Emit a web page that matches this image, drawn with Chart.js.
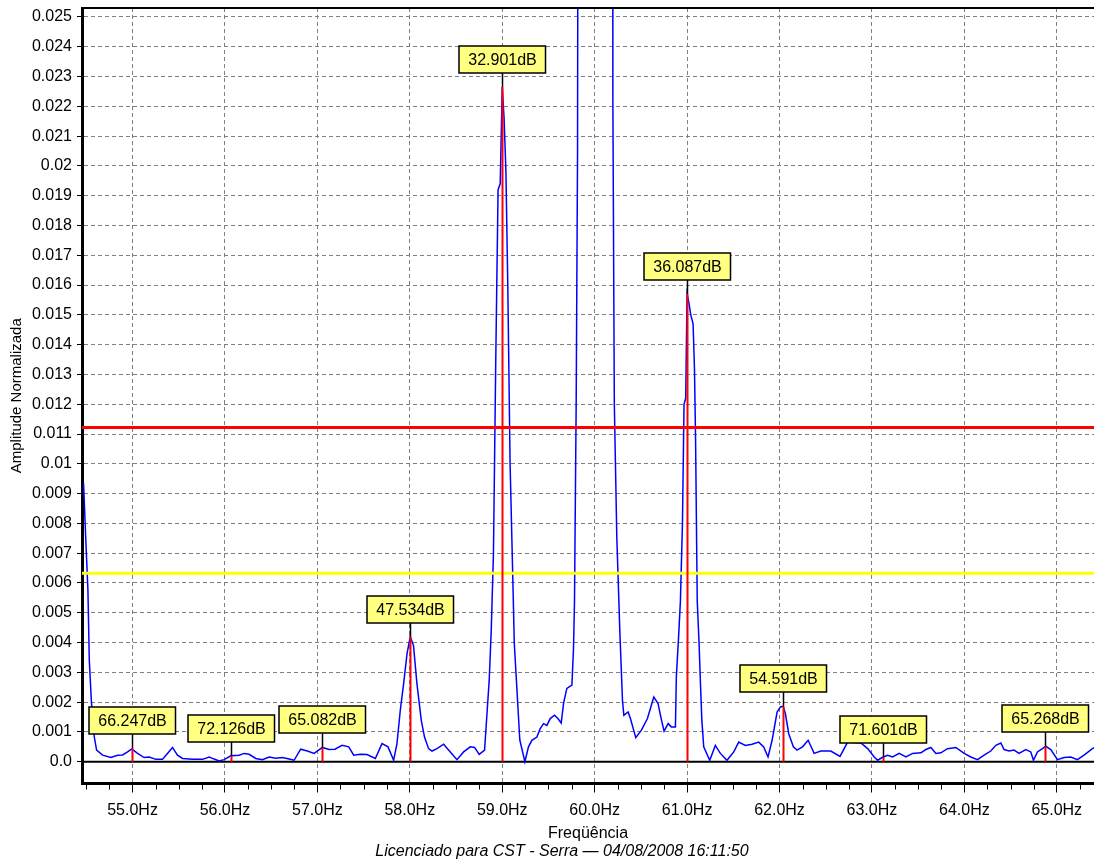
<html>
<script src="https://cdn.jsdelivr.net/npm/chart.js@4.4.0/dist/chart.umd.min.js"></script>
<style>
  body { margin: 0; background: #fff; }
</style>

<body>
  <canvas id="spectrumChart" width="1094" height="867"></canvas>
</body>

<script>
  // spectrum trace (Hz, normalized amplitude)
  var freqs = [
    54.470, 54.492, 54.517, 54.532, 54.555, 54.586, 54.611, 54.676, 54.765, 54.838,
    54.892, 54.946, 54.992, 55.054, 55.126, 55.180, 55.252, 55.324, 55.378, 55.432,
    55.486, 55.541, 55.649, 55.757, 55.829, 55.883, 55.937, 55.991, 56.063, 56.153,
    56.207, 56.261, 56.333, 56.405, 56.478, 56.549, 56.622, 56.694, 56.748, 56.819,
    56.892, 56.964, 57.054, 57.126, 57.190, 57.267, 57.339, 57.393, 57.465, 57.537,
    57.627, 57.699, 57.764, 57.825, 57.861, 57.897, 57.933, 57.970, 58.005, 58.040,
    58.077, 58.124, 58.159, 58.203, 58.240, 58.294, 58.366, 58.438, 58.510, 58.582,
    58.654, 58.701, 58.751, 58.809, 58.835, 58.859, 58.881, 58.905, 58.930, 58.955,
    58.978, 59.000, 59.020, 59.040, 59.060, 59.085, 59.120, 59.130, 59.165, 59.190,
    59.245, 59.284, 59.321, 59.375, 59.411, 59.447, 59.483, 59.519, 59.566, 59.602,
    59.638, 59.663, 59.699, 59.754, 59.771, 59.782, 59.800, 59.815, 59.832, 59.900,
    60.000, 60.100, 60.190, 60.197, 60.213, 60.240, 60.262, 60.272, 60.290, 60.301,
    60.316, 60.362, 60.387, 60.445, 60.506, 60.571, 60.608, 60.640, 60.686, 60.716,
    60.751, 60.795, 60.830, 60.874, 60.884, 60.910, 60.928, 60.950, 60.967, 60.985,
    61.000, 61.020, 61.040, 61.065, 61.080, 61.092, 61.110, 61.130, 61.145, 61.160,
    61.180, 61.245, 61.306, 61.360, 61.432, 61.505, 61.559, 61.630, 61.703, 61.775,
    61.829, 61.876, 61.920, 61.974, 62.010, 62.040, 62.064, 62.100, 62.150, 62.190,
    62.249, 62.310, 62.375, 62.447, 62.555, 62.655, 62.737, 62.881, 62.954, 63.025,
    63.062, 63.116, 63.170, 63.224, 63.295, 63.368, 63.440, 63.530, 63.584, 63.638,
    63.692, 63.746, 63.818, 63.908, 63.998, 64.070, 64.143, 64.214, 64.286, 64.341,
    64.395, 64.430, 64.484, 64.538, 64.592, 64.665, 64.719, 64.748, 64.791, 64.845,
    64.881, 64.935, 65.008, 65.079, 65.151, 65.224, 65.295, 65.386, 65.420
  ];
  var amps = [
    0.00935, 0.0076, 0.00576, 0.0034, 0.0020, 0.00083, 0.00039, 0.00022, 0.00014, 0.00022,
    0.00023, 0.00033, 0.00043, 0.00028, 0.00014, 0.00016, 0.00008, 0.00008, 0.00028, 0.00048,
    0.00022, 0.00011, 0.00008, 0.00008, 0.00016, 0.00009, 0.00003, 0.00007, 0.00020, 0.00022,
    0.00028, 0.00025, 0.00011, 0.00007, 0.00016, 0.00012, 0.00014, 0.00009, 0.00005, 0.00042,
    0.00036, 0.00028, 0.00048, 0.00041, 0.00042, 0.00055, 0.00050, 0.00022, 0.00025, 0.00024,
    0.00011, 0.00061, 0.00050, 0.00005, 0.00061, 0.00173, 0.00262, 0.00363, 0.00420, 0.00390,
    0.00262, 0.00139, 0.00083, 0.00044, 0.00036, 0.00044, 0.00059, 0.00033, 0.00007, 0.00033,
    0.00050, 0.00048, 0.00025, 0.00039, 0.00162, 0.00273, 0.00441, 0.0070, 0.0135, 0.0192,
    0.0194, 0.02265, 0.0216, 0.0198, 0.0160, 0.0100, 0.0054, 0.0040, 0.0021, 0.00073,
    0.0, 0.00050, 0.00072, 0.00083, 0.00111, 0.00128, 0.00122, 0.00145, 0.00156, 0.00145,
    0.00130, 0.00195, 0.00246, 0.00257, 0.00380, 0.0054, 0.0120, 0.0205, 0.060, 0.30,
    1.0, 0.30, 0.060, 0.0223, 0.0120, 0.0075, 0.0054, 0.00441, 0.00296, 0.00206,
    0.00156, 0.00167, 0.00145, 0.00081, 0.00106, 0.00145, 0.00184, 0.00217, 0.00195, 0.00150,
    0.00103, 0.00128, 0.00117, 0.00117, 0.00285, 0.00430, 0.0054, 0.0080, 0.0120, 0.0122,
    0.0157, 0.0154, 0.0150, 0.0147, 0.0132, 0.0108, 0.0054, 0.00396, 0.00262, 0.00139,
    0.00050, 0.00005, 0.00055, 0.00028, 0.00005, 0.00033, 0.00066, 0.00055, 0.00059, 0.00066,
    0.00050, 0.00016, 0.00072, 0.00167, 0.00184, 0.00186, 0.00161, 0.00094, 0.00050, 0.00039,
    0.00050, 0.00072, 0.00028, 0.00036, 0.00036, 0.00018, 0.00066, 0.00063, 0.00044, 0.00016,
    0.00005, 0.00015, 0.00022, 0.00016, 0.00028, 0.00016, 0.00028, 0.00030, 0.00041, 0.00048,
    0.00028, 0.00030, 0.00044, 0.00048, 0.00028, 0.00016, 0.00007, 0.00022, 0.00036, 0.00055,
    0.00063, 0.00041, 0.00036, 0.00039, 0.00028, 0.00041, 0.00033, 0.00005, 0.00033, 0.00044,
    0.00052, 0.00041, 0.00007, 0.00014, 0.00016, 0.00007, 0.00022, 0.00044, 0.00050
  ];

  // peak markers
  var markerFreqs = [54.99, 56.065, 57.05, 58.0, 59.0, 61.0, 62.04, 63.125, 64.87];
  var markerAmps = [0.00045, 0.00020, 0.00048, 0.0042, 0.02265, 0.0157, 0.00186, 0.00015, 0.00052];
  var markerLabels = ['66.247dB', '72.126dB', '65.082dB', '47.534dB', '32.901dB',
    '36.087dB', '54.591dB', '71.601dB', '65.268dB'];

  // alarm levels
  var redLevel = 0.01122;
  var yellowLevel = 0.00633;

  var footerText = 'Licenciado para CST - Serra \u2014 04/08/2008 16:11:50';

  var xMin = 54.453, xMax = 65.403;
  var yMin = -0.00073, yMax = 0.0253;

  var trace = freqs.map((f, i) => ({ x: f, y: amps[i] }));

  function isWhole(v) {
    return Math.abs(v - Math.round(v)) < 1e-6;
  }

  Chart.defaults.font.family = '"Liberation Sans", Arial, sans-serif';
  Chart.defaults.font.size = 16;
  Chart.defaults.color = '#000';

  var overlay = {
    id: 'overlay',
    beforeDatasetsDraw(chart) {
      var ctx = chart.ctx, area = chart.chartArea, y = chart.scales.y;
      var y0 = y.getPixelForValue(0);
      ctx.save();
      ctx.strokeStyle = '#000';
      ctx.lineWidth = 2;
      ctx.beginPath();
      ctx.moveTo(area.left, y0);
      ctx.lineTo(area.right, y0);
      ctx.stroke();
      ctx.restore();
    },
    afterDatasetsDraw(chart) {
      var ctx = chart.ctx, x = chart.scales.x, y = chart.scales.y;
      var y0 = y.getPixelForValue(0);
      ctx.save();
      ctx.font = '16px "Liberation Sans", Arial, sans-serif';
      ctx.textAlign = 'center';
      ctx.textBaseline = 'middle';
      markerFreqs.forEach((f, i) => {
        var px = Math.round(x.getPixelForValue(f)) + 0.5;
        var py = y.getPixelForValue(markerAmps[i]);
        // red line up to the peak
        ctx.strokeStyle = '#ff0000';
        ctx.lineWidth = 2;
        ctx.beginPath();
        ctx.moveTo(px, y0);
        ctx.lineTo(px, py);
        ctx.stroke();
        // leader
        ctx.strokeStyle = '#000';
        ctx.lineWidth = 1.5;
        ctx.beginPath();
        ctx.moveTo(px, py);
        ctx.lineTo(px, py - 14);
        ctx.stroke();
        // label box
        var w = ctx.measureText(markerLabels[i]).width + 18;
        var h = 27;
        var bx = Math.round(px - w / 2), by = Math.round(py - 14 - h);
        ctx.fillStyle = '#ffff80';
        ctx.fillRect(bx, by, w, h);
        ctx.strokeRect(bx, by, w, h);
        ctx.fillStyle = '#000';
        ctx.fillText(markerLabels[i], px, by + h / 2 + 1);
      });
      ctx.restore();
    },
    afterDraw(chart) {
      var ctx = chart.ctx, area = chart.chartArea, x = chart.scales.x;
      ctx.save();
      ctx.strokeStyle = '#000';
      ctx.lineWidth = 2;
      ctx.beginPath();
      ctx.moveTo(area.left, area.top);
      ctx.lineTo(area.right, area.top);
      ctx.stroke();
      // short minor ticks every 0.25 Hz
      ctx.lineWidth = 1;
      x.ticks.forEach(t => {
        if (isWhole(t.value)) return;
        var px = Math.round(x.getPixelForValue(t.value)) + 0.5;
        ctx.beginPath();
        ctx.moveTo(px, area.bottom + 1);
        ctx.lineTo(px, area.bottom + 6);
        ctx.stroke();
      });
      // licence footer
      ctx.font = 'italic 16px "Liberation Sans", Arial, sans-serif';
      ctx.fillStyle = '#000';
      ctx.textAlign = 'center';
      ctx.textBaseline = 'middle';
      ctx.fillText(footerText, 562, 852);
      ctx.restore();
    }
  };

  var spectrumChart = new Chart(document.getElementById('spectrumChart'), {
    type: 'line',
    data: {
      datasets: [
        {
          label: 'Alarme',
          data: [{ x: xMin, y: redLevel }, { x: xMax, y: redLevel }],
          borderColor: '#ff0000',
          borderWidth: 3,
          pointRadius: 0
        },
        {
          label: 'Alerta',
          data: [{ x: xMin, y: yellowLevel }, { x: xMax, y: yellowLevel }],
          borderColor: '#ffff00',
          borderWidth: 3,
          pointRadius: 0
        },
        {
          label: 'Espectro',
          data: trace,
          borderColor: '#0000ff',
          borderWidth: 1.5,
          pointRadius: 0,
          tension: 0
        }
      ]
    },
    options: {
      responsive: false,
      animation: false,
      devicePixelRatio: 1,
      layout: { padding: { top: 8, right: 0, bottom: 24.2, left: 0 } },
      plugins: {
        legend: { display: false },
        tooltip: { enabled: false }
      },
      scales: {
        x: {
          type: 'linear',
          min: xMin,
          max: xMax,
          afterFit: s => { s.height = 59.3; s.paddingLeft = 0; s.paddingRight = 0; },
          ticks: {
            stepSize: 0.25,
            autoSkip: false,
            maxRotation: 0,
            includeBounds: false,
            padding: 8,
            callback: v => isWhole(v) ? v.toFixed(1) + 'Hz' : ''
          },
          grid: {
            color: c => isWhole(c.tick.value) ? '#808080' : 'rgba(0,0,0,0)',
            tickColor: c => isWhole(c.tick.value) ? '#000' : 'rgba(0,0,0,0)',
            tickLength: 9
          },
          border: { color: '#000', width: 3, dash: [4, 3] },
          title: { display: true, text: 'Freqüência', padding: 0 }
        },
        y: {
          min: yMin,
          max: yMax,
          afterFit: s => { s.width = 82; s.paddingTop = 0; s.paddingBottom = 0; },
          ticks: {
            stepSize: 0.001,
            includeBounds: false,
            padding: 5,
            callback: v => Math.abs(v) < 1e-9 ? '0.0' : String(parseFloat(v.toFixed(3)))
          },
          grid: {
            color: c => c.tick.value > 0.0005 ? '#808080' : 'rgba(0,0,0,0)',
            tickColor: '#000',
            tickLength: 5
          },
          border: { color: '#000', width: 3, dash: [4, 3] },
          title: {
            display: true,
            text: 'Amplitude Normalizada',
            font: { size: 15 },
            padding: { top: 8, bottom: 0 }
          }
        }
      }
    },
    plugins: [overlay]
  });
</script>

</html>
